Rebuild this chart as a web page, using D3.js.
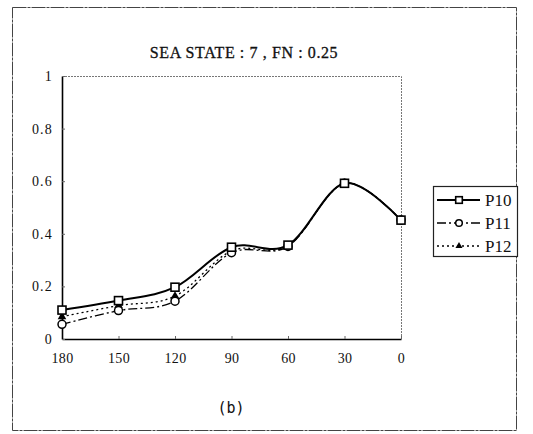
<!DOCTYPE html>
<html>
<head>
<meta charset="utf-8">
<script src="https://cdn.jsdelivr.net/npm/d3@7"></script>
<style>
  body { margin: 0; background: #fff; }
  text { font-family: "Liberation Serif", "DejaVu Serif", serif; fill: #111; }
</style>
</head>
<body>
<div id="chart"></div>
<script>
"use strict";

// heading angle categories and tick labels
const categories = ["180", "150", "120", "90", "60", "30", "0"];
const yTicks = [0, 0.2, 0.4, 0.6, 0.8, 1];
const seriesNames = ["P10", "P11", "P12"];

// values
const p10 = [0.110, 0.146, 0.197, 0.349, 0.357, 0.592, 0.452];
const p11 = [0.056, 0.108, 0.144, 0.328, 0.352, 0.592, 0.452];
const p12 = [0.085, 0.127, 0.163, 0.335, 0.354, 0.592, 0.452];

const msm = {
    width: 533,
    height: 434,
    left: 62,
    right: 401,
    top: 76,
    bottom: 339
}

const svg = d3.select("#chart")
    .append("svg")
    .attr("width", msm.width)
    .attr("height", msm.height);

// outer frame
svg.append("rect")
    .attr("x", 12.5).attr("y", 7.5)
    .attr("width", 504).attr("height", 423)
    .attr("fill", "none")
    .attr("stroke", "#444")
    .attr("stroke-width", 1)
    .attr("stroke-dasharray", "14,1,3,1");

let xScale = d3.scalePoint()
    .domain(categories)
    .range([msm.left, msm.right]);

let yScale = d3.scaleLinear()
    .domain([0, 1])
    .range([msm.bottom, msm.top]);

// plot box top/right edges (dotted grey)
svg.append("path")
    .attr("d", "M" + msm.left + "," + (msm.top + 0.5) + "H" + (msm.right + 0.5) + "V" + msm.bottom)
    .attr("fill", "none")
    .attr("stroke", "#777")
    .attr("stroke-dasharray", "2,1");

// axes
let xAxis = d3.axisBottom(xScale).tickSizeInner(-3).tickSizeOuter(0).tickPadding(14);
let gx = svg.append("g")
    .attr("transform", "translate(0," + msm.bottom + ")")
    .call(xAxis);
gx.select(".domain").attr("stroke", "#000").attr("stroke-width", 1.6);
gx.selectAll(".tick line").attr("stroke", "#666");
gx.selectAll(".tick text")
    .style("font-family", "Liberation Serif, serif")
    .style("font-size", "14px")
    .style("letter-spacing", "0.3px")
    .attr("fill", "#111");

let yAxis = d3.axisLeft(yScale).tickValues(yTicks).tickSizeInner(-3).tickSizeOuter(0).tickPadding(9)
    .tickFormat((d) => d === 0 ? "0" : d === 1 ? "1" : d3.format(".1f")(d));
let gy = svg.append("g")
    .attr("transform", "translate(" + msm.left + ",0)")
    .call(yAxis);
gy.select(".domain").attr("stroke", "#000").attr("stroke-width", 1.6);
gy.selectAll(".tick line").attr("stroke", "#666");
gy.selectAll(".tick text")
    .style("font-family", "Liberation Serif, serif")
    .style("font-size", "14px")
    .style("letter-spacing", "1.2px")
    .attr("fill", "#111");

// title
svg.append("text")
    .attr("x", 244)
    .attr("y", 58)
    .attr("text-anchor", "middle")
    .style("font-family", "Liberation Serif, serif")
    .style("font-size", "16px")
    .style("letter-spacing", "0.6px")
    .attr("stroke", "#111")
    .attr("stroke-width", 0.3)
    .text("SEA STATE : 7 , FN : 0.25");

// caption
svg.append("text")
    .attr("x", 231)
    .attr("y", 413)
    .attr("text-anchor", "middle")
    .style("font-family", "DejaVu Sans Mono, monospace")
    .style("font-size", "15px")
    .text("(b)");

const styles = [
    { name: "P10", values: p10, dash: null, width: 2, marker: "square" },
    { name: "P11", values: p11, dash: "9,3,2,3", width: 1.3, marker: "circle" },
    { name: "P12", values: p12, dash: "2,3", width: 1.3, marker: "triangle" }
];

let line = d3.line()
    .x((d, i) => xScale(categories[i]))
    .y((d) => yScale(d))
    .curve(d3.curveCatmullRom.alpha(0));

function drawMarker(g, type, x, y, s) {
    if (type === "square") {
        g.append("rect")
            .attr("x", x - s).attr("y", y - s)
            .attr("width", 2 * s).attr("height", 2 * s)
            .attr("fill", "#fff").attr("stroke", "#000").attr("stroke-width", 1.6);
    } else if (type === "circle") {
        g.append("circle")
            .attr("cx", x).attr("cy", y).attr("r", s)
            .attr("fill", "#fff").attr("stroke", "#000").attr("stroke-width", 1.5);
    } else {
        g.append("path")
            .attr("d", d3.symbol().type(d3.symbolTriangle).size(s * s * 2)())
            .attr("transform", "translate(" + x + "," + y + ")")
            .attr("fill", "#000");
    }
}

// draw series in reverse so P10 sits on top
styles.slice().reverse().forEach((s) => {
    svg.append("path")
        .datum(s.values)
        .attr("fill", "none")
        .attr("stroke", "#000")
        .attr("stroke-width", s.width)
        .attr("stroke-dasharray", s.dash)
        .attr("d", line);
    let g = svg.append("g");
    s.values.forEach((v, i) => drawMarker(g, s.marker, xScale(categories[i]), yScale(v), 4));
});

// legend
let legend = svg.append("g");
legend.append("rect")
    .attr("x", 433.5).attr("y", 186.5)
    .attr("width", 84).attr("height", 70)
    .attr("fill", "#fff")
    .attr("stroke", "#222")
    .attr("stroke-width", 1.2);

styles.forEach((s, i) => {
    let y = 200 + i * 23;
    legend.append("line")
        .attr("x1", 437).attr("x2", 480)
        .attr("y1", y).attr("y2", y)
        .attr("stroke", "#000")
        .attr("stroke-width", s.width)
        .attr("stroke-dasharray", s.dash);
    drawMarker(legend, s.marker, 459, y, 3.3);
    legend.append("text")
        .attr("x", 485)
        .attr("y", y + 6)
        .style("font-size", "17px")
        .text(seriesNames[i]);
});
</script>
</body>
</html>
